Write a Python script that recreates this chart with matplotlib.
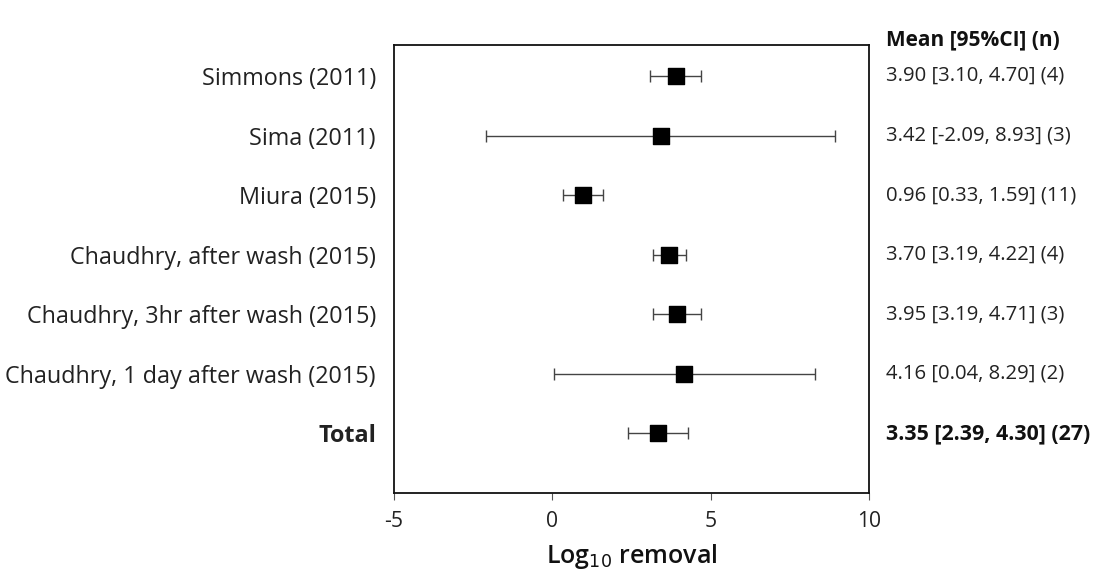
import matplotlib
matplotlib.use("Agg")
import matplotlib.pyplot as plt

studies = [
    "Simmons (2011)",
    "Sima (2011)",
    "Miura (2015)",
    "Chaudhry, after wash (2015)",
    "Chaudhry, 3hr after wash (2015)",
    "Chaudhry, 1 day after wash (2015)",
    "Total",
]
means = [3.90, 3.42, 0.96, 3.70, 3.95, 4.16, 3.35]
lower = [3.10, -2.09, 0.33, 3.19, 3.19, 0.04, 2.39]
upper = [4.70, 8.93, 1.59, 4.22, 4.71, 8.29, 4.30]
counts = [4, 3, 11, 4, 3, 2, 27]
x_ticks = [-5, 0, 5, 10]

plt.rcParams["font.family"] = ["Open Sans", "DejaVu Sans"]
FS_LABEL = 16.8
FS_NUM = 14.6

fig = plt.figure(figsize=(11.18, 5.71), dpi=100)
ax = fig.add_axes([394 / 1118, 1 - 493 / 571, (869 - 394) / 1118, (493 - 45) / 571])

ys = list(range(1, len(studies) + 1))
err_lo = [m - l for m, l in zip(means, lower)]
err_hi = [u - m for m, u in zip(means, upper)]
ax.errorbar(means, ys, xerr=[err_lo, err_hi], fmt="none", ecolor="#444444",
            elinewidth=1.0, capsize=4.5, capthick=1.0, zorder=2)
ax.scatter(means, ys, marker="s", s=125, color="black", zorder=3)

ax.set_xlim(-5, 10)
ax.set_ylim(8, 0.48)
ax.set_xticks(x_ticks)
ax.set_xticklabels([str(t) for t in x_ticks], fontsize=FS_NUM + 0.6, color="#222222")
ax.tick_params(axis="x", length=5, color="#555555", pad=8)
ax.set_yticks(ys)
ax.set_yticklabels(studies, fontsize=FS_LABEL, color="#222222")
ax.tick_params(axis="y", length=0, pad=13)
for lbl in ax.get_yticklabels():
    if lbl.get_text() == "Total":
        lbl.set_fontweight("bold")
for sp in ax.spines.values():
    sp.set_linewidth(1.3)
    sp.set_color("#111111")

ax.set_xlabel("Log$_{10}$ removal", fontsize=18, fontweight="semibold", labelpad=7,
              color="#111111")

# right-hand column of summaries
tx = 886 / 1118
fig.text(tx, 1 - 40 / 571, "Mean [95%CI] (n)", fontsize=FS_NUM + 0.4, fontweight="bold",
         va="center", ha="left", color="#111111")
for y, m, l, u, n, name in zip(ys, means, lower, upper, counts, studies):
    txt = f"{m:.2f} [{l:.2f}, {u:.2f}] ({n})"
    ax.text(1.0 + 17 / 475, y, txt, transform=ax.get_yaxis_transform(),
            fontsize=FS_NUM + (0.8 if name == "Total" else 0), va="center",
            ha="left", color="#222222" if name != "Total" else "#111111",
            fontweight="bold" if name == "Total" else "normal")

fig.savefig("out.png", dpi=100, facecolor="white")
